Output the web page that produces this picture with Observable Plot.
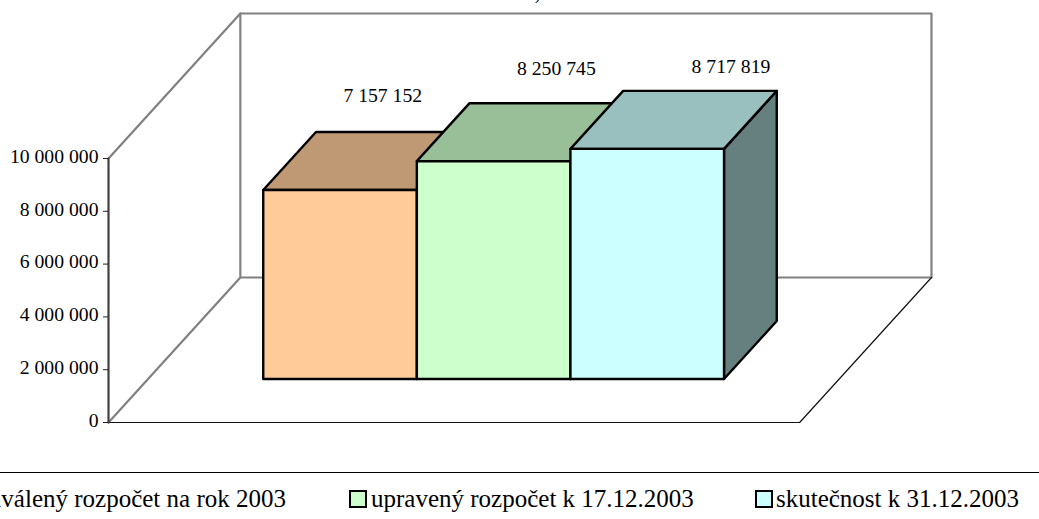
<!DOCTYPE html>
<html>
<head>
<meta charset="utf-8">
<script src="https://cdn.jsdelivr.net/npm/d3@7"></script>
<script src="https://cdn.jsdelivr.net/npm/@observablehq/plot@0.6"></script>
<style>
  html, body { margin: 0; padding: 0; background: #fff; overflow: hidden; }
  body { width: 1039px; height: 519px; position: relative; font-family: "Liberation Serif", serif; }
  #legend { position: absolute; left: 0; top: 472px; width: 1039px; height: 47px; border-top: 1px solid #000; box-sizing: border-box; overflow: hidden; }
  .item { position: absolute; top: 12px; height: 28px; line-height: 28px; font-size: 25px; color: #000; white-space: nowrap; }
  .swatch { position: absolute; top: 17px; width: 14px; height: 14px; border: 2px solid #000; box-sizing: content-box; }
</style>
</head>
<body>
<div id="chart"></div>
<div id="legend"></div>
<script>
const categories = ["schválený rozpočet na rok 2003", "upravený rozpočet k 17.12.2003", "skutečnost k 31.12.2003"];
const values = [7157152, 8250745, 8717819];
const valueLabels = ["7 157 152", "8 250 745", "8 717 819"];
const frontColors = ["#FFCC99", "#CCFFCC", "#CCFFFF"];
const topColors = ["#BF9973", "#99BF99", "#99BFBF"];
const sideColors = ["#806650", "#668066", "#668080"];
const yTicks = [0, 2000000, 4000000, 6000000, 8000000, 10000000];

// Oblique projection of the box: x in bar-widths, v in value units, d in depth 0..1
const xMax = 4.5, vMax = 10000000;
const depthX = 0.8584, depthV = 5492000;
const barStart = 0.75, depthFront = 0.3, depthBack = 0.7;
const pt = (x, v, d) => ({px: x + d * depthX, pv: v + d * depthV});
const labelDx = [-10, 10, 31], labelDy = [-36, -34, -24];

const faces = [];
const face = (id, fill, pts) => pts.forEach(p => faces.push({id, fill, ...p}));
values.forEach((v, i) => {
  const a = barStart + i, b = a + 1;
  face("side" + i, sideColors[i], [pt(b, 0, depthFront), pt(b, 0, depthBack), pt(b, v, depthBack), pt(b, v, depthFront)]);
  face("top" + i, topColors[i], [pt(a, v, depthFront), pt(a, v, depthBack), pt(b, v, depthBack), pt(b, v, depthFront)]);
  face("front" + i, frontColors[i], [pt(a, 0, depthFront), pt(b, 0, depthFront), pt(b, v, depthFront), pt(a, v, depthFront)]);
});

const wallLines = [
  [pt(0, 0, 0), pt(0, 0, 1), pt(xMax, 0, 1), pt(xMax, vMax, 1), pt(0, vMax, 1), pt(0, 0, 1)],
  [pt(0, vMax, 0), pt(0, vMax, 1)]
].flatMap((l, i) => l.map(p => ({...p, id: i})));
const floorLines = [pt(0, 0, 0), pt(xMax, 0, 0), pt(xMax, 0, 1)];
const axisLine = [pt(0, 0, 0), pt(0, vMax, 0)];
const labels = values.map((v, i) => ({...pt(barStart + i + 0.5, v, depthBack), text: valueLabels[i]}));

const plot = Plot.plot({
  width: 1039, height: 472,
  marginLeft: 108, marginRight: 108, marginTop: 13, marginBottom: 50,
  x: {domain: [0, xMax + depthX], axis: null},
  y: {domain: [0, vMax + depthV], axis: null},
  style: {fontFamily: "'Liberation Serif', serif", background: "#fff", overflow: "hidden"},
  marks: [
    Plot.line(wallLines, {x: "px", y: "pv", z: "id", stroke: "#808080", strokeWidth: 2.2}),
    Plot.line(floorLines, {x: "px", y: "pv", stroke: "#111", strokeWidth: 1.2}),
    Plot.line(axisLine, {x: "px", y: "pv", stroke: "#404040", strokeWidth: 2.2}),
    Plot.axisY(yTicks, {anchor: "left", tickSize: 5, stroke: "#222", label: null, tickFormat: () => ""}),
    Plot.axisY(yTicks, {
      anchor: "left", tickSize: 0, tickPadding: 10, dy: -2, fontSize: 19.7, fill: "#000",
      label: null, tickFormat: d => d3.format(",")(d).replace(/,/g, " ")
    }),
    Plot.line(faces, {x: "px", y: "pv", z: "id", fill: "fill", stroke: "#000", strokeWidth: 2.4, curve: "linear-closed"}),
    ...labels.map((l, i) => Plot.text([l], {x: "px", y: "pv", text: "text", dx: labelDx[i], dy: labelDy[i], fontSize: 19.7, fill: "#000"})),
    Plot.text([","], {frameAnchor: "top-left", dx: 426, dy: -32, textAnchor: "start", lineAnchor: "top", fontSize: 24, fill: "#000"})
  ]
});
document.getElementById("chart").append(plot);

const legend = document.getElementById("legend");
const textRight = [286, null, null];
const swatchLeft = [-44, 349, 755];
const textLeft = [-24, 371, 776];
categories.forEach((c, i) => {
  const s = document.createElement("div");
  s.className = "swatch"; s.style.left = swatchLeft[i] + "px"; s.style.background = frontColors[i];
  const t = document.createElement("div");
  t.className = "item"; t.textContent = c;
  if (textRight[i] != null) t.style.right = (1039 - textRight[i]) + "px"; else t.style.left = textLeft[i] + "px";
  legend.append(s, t);
});
</script>
</body>
</html>
